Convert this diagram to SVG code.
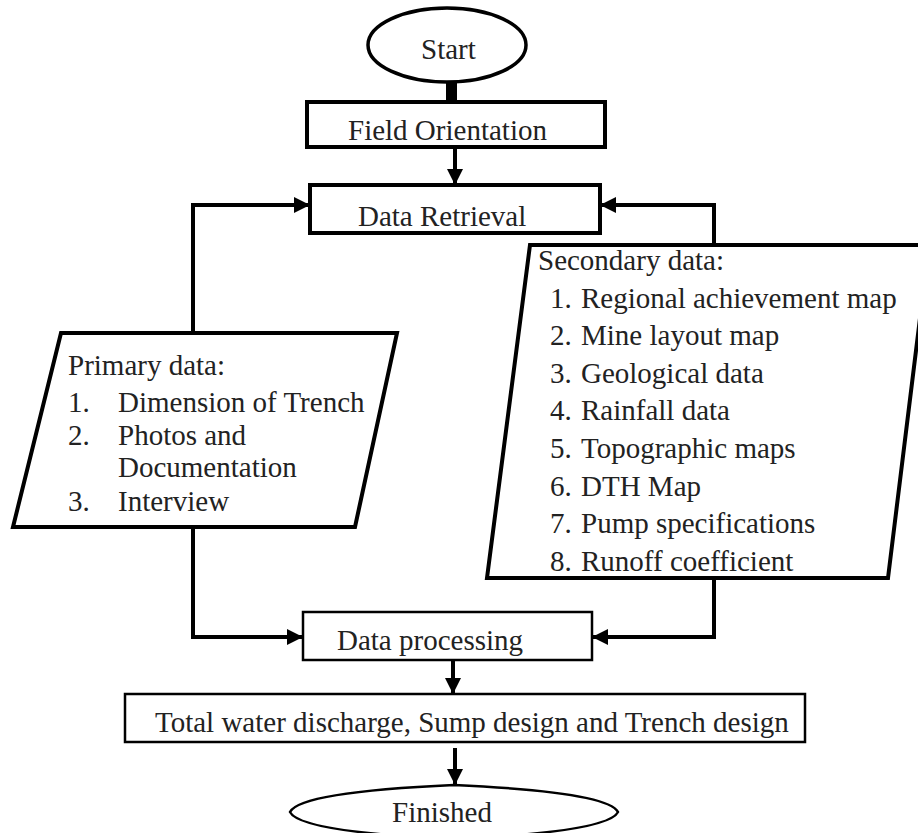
<svg xmlns="http://www.w3.org/2000/svg" width="918" height="833" viewBox="0 0 918 833">
<style>
text{font-family:"Liberation Serif","Times New Roman",serif;font-size:29px;fill:#222}
.thick{fill:#fff;stroke:#000;stroke-width:4}
.thin{fill:#fff;stroke:#000;stroke-width:2.5}
.conn{fill:none;stroke:#000;stroke-width:4}
</style>
<defs>
<marker id="ah" markerUnits="userSpaceOnUse" markerWidth="18" markerHeight="16" refX="16" refY="8" orient="auto">
<path d="M0,0 L16,8 L0,16 Z" fill="#000"/>
</marker>
</defs>
<rect width="918" height="833" fill="#fff"/>
<g id="connectors">
<rect x="446" y="82" width="11" height="22" fill="#000"/>
<path class="conn" d="M455,147 L455,185" marker-end="url(#ah)"/>
<path class="conn" d="M193,333 L193,205 L310,205" marker-end="url(#ah)"/>
<path class="conn" d="M714,245 L714,205 L600,205" marker-end="url(#ah)"/>
<path class="conn" d="M193,527 L193,637 L303,637" marker-end="url(#ah)"/>
<path class="conn" d="M714,578 L714,637 L592,637" marker-end="url(#ah)"/>
<path class="conn" d="M453,660 L453,694" marker-end="url(#ah)"/>
<path class="conn" d="M455,748 L455,785" marker-end="url(#ah)"/>
</g>
<g id="start">
<ellipse class="thick" cx="447" cy="45" rx="79" ry="37" style="stroke-width:3.5"/>
<text x="421" y="59">Start</text>
</g>
<g id="field-orientation">
<rect class="thick" x="307" y="102" width="298" height="45"/>
<text x="348" y="140">Field Orientation</text>
</g>
<g id="data-retrieval">
<rect class="thick" x="310" y="185" width="290" height="48"/>
<text x="358" y="226">Data Retrieval</text>
</g>
<g id="primary-data">
<path class="thick" d="M61,333 L397,333 L355,527 L13,527 Z"/>
<text x="68" y="375">Primary data:</text>
<text x="68" y="412">1.</text><text x="118" y="412">Dimension of Trench</text>
<text x="68" y="445">2.</text><text x="118" y="445">Photos and</text>
<text x="118" y="477">Documentation</text>
<text x="68" y="511">3.</text><text x="118" y="511">Interview</text>
</g>
<g id="secondary-data">
<path class="thick" d="M530,245 L929,245 L888,578 L487,578 Z"/>
<text x="538" y="270">Secondary data:</text>
<text x="550" y="308">1.</text><text x="581" y="308">Regional achievement map</text>
<text x="550" y="345">2.</text><text x="581" y="345">Mine layout map</text>
<text x="550" y="383">3.</text><text x="581" y="383">Geological data</text>
<text x="550" y="420">4.</text><text x="581" y="420">Rainfall data</text>
<text x="550" y="458">5.</text><text x="581" y="458">Topographic maps</text>
<text x="550" y="496">6.</text><text x="581" y="496">DTH Map</text>
<text x="550" y="533">7.</text><text x="581" y="533">Pump specifications</text>
<text x="550" y="571">8.</text><text x="581" y="571">Runoff coefficient</text>
</g>
<g id="data-processing">
<rect class="thin" x="303" y="612" width="289" height="48"/>
<text x="337" y="650">Data processing</text>
</g>
<g id="total-water">
<rect class="thin" x="125" y="694" width="680" height="48"/>
<text x="155" y="732">Total water discharge, Sump design and Trench design</text>
</g>
<g id="finished">
<path d="M290,812 Q300,792 454,785 Q608,792 618,812 Q608,832 454,839 Q300,832 290,812 Z" fill="#fff" stroke="#000" stroke-width="2.5"/>
<text x="392" y="822">Finished</text>
</g>
</svg>
